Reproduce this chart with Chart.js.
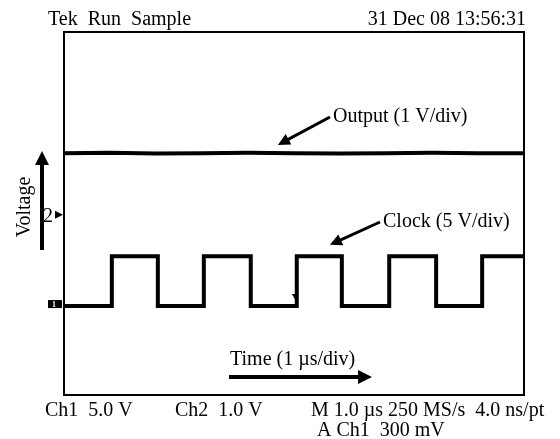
<!DOCTYPE html>
<html>
<head>
<meta charset="utf-8">
<script src="https://cdn.jsdelivr.net/npm/chart.js@4/dist/chart.umd.min.js"></script>
<style>
  html, body { margin: 0; padding: 0; background: #fff; }
  #wrap { width: 560px; height: 439px; }
</style>
</head>
<body>
<div id="wrap"><canvas id="scope" width="560" height="439"></canvas></div>
<script>
// Screen in divisions: 10 horizontal (1 us/div), 8 vertical
const xDivs = [0, 10];
const yDivs = [0, 8];

// Clock trace (Ch1, 5 V/div): edge times in divisions, levels in divisions
const clockEdges = [1.04, 2.04, 3.04, 4.06, 5.06, 6.04, 7.07, 8.09, 9.09];
const clockLow = 1.96;
const clockHigh = 3.06;

// Output trace (Ch2, 1 V/div): flat level, small noise
const outputX = [0, 1, 2, 3, 4, 5, 6, 7, 8, 9, 10];
const outputY = [5.33, 5.34, 5.32, 5.33, 5.34, 5.33, 5.32, 5.33, 5.34, 5.33, 5.33];

// channel markers on the left edge
const ch2Marker = 3.97;

const headerLeft = 'Tek  Run  Sample';
const headerRight = '31 Dec 08 13:56:31';
const footerTexts = ['Ch1  5.0 V', 'Ch2  1.0 V', 'M 1.0 \u00b5s 250 MS/s  4.0 ns/pt', 'A Ch1  300 mV'];

// build square wave points from the edges
const clockPoints = [{ x: xDivs[0], y: clockLow }];
let level = clockLow;
clockEdges.forEach(t => {
    clockPoints.push({ x: t, y: level });
    level = (level === clockLow) ? clockHigh : clockLow;
    clockPoints.push({ x: t, y: level });
});
clockPoints.push({ x: xDivs[1], y: level });

const outputPoints = outputX.map((x, i) => ({ x: x, y: outputY[i] }));

const FONT = '"Liberation Serif", "Times New Roman", serif';

function arrow(ctx, x1, y1, x2, y2, w, head) {
    const a = Math.atan2(y2 - y1, x2 - x1);
    ctx.save();
    ctx.lineWidth = w;
    ctx.beginPath();
    ctx.moveTo(x1, y1);
    ctx.lineTo(x2 - Math.cos(a) * head * 0.8, y2 - Math.sin(a) * head * 0.8);
    ctx.stroke();
    ctx.beginPath();
    ctx.moveTo(x2, y2);
    ctx.lineTo(x2 - head * Math.cos(a) + head * 0.5 * Math.sin(a), y2 - head * Math.sin(a) - head * 0.5 * Math.cos(a));
    ctx.lineTo(x2 - head * Math.cos(a) - head * 0.5 * Math.sin(a), y2 - head * Math.sin(a) + head * 0.5 * Math.cos(a));
    ctx.closePath();
    ctx.fill();
    ctx.restore();
}

const scopeDecor = {
    id: 'scopeDecor',
    afterDraw(chart) {
        const ctx = chart.ctx;
        const area = chart.chartArea;
        const xs = chart.scales.x, ys = chart.scales.y;
        ctx.save();
        ctx.fillStyle = '#000';
        ctx.strokeStyle = '#000';

        // screen border
        ctx.lineWidth = 2;
        ctx.strokeRect(area.left, area.top, area.right - area.left, area.bottom - area.top);

        // header / footer text
        ctx.font = '20px ' + FONT;
        ctx.textBaseline = 'alphabetic';
        ctx.textAlign = 'left';
        ctx.fillText(headerLeft, 48, 25);
        ctx.textAlign = 'right';
        ctx.fillText(headerRight, 526, 25);
        ctx.textAlign = 'left';
        ctx.fillText(footerTexts[0], 45, 416);
        ctx.fillText(footerTexts[1], 175, 416);
        ctx.fillText(footerTexts[2], 311, 416);
        ctx.fillText(footerTexts[3], 317, 436);

        // annotations
        ctx.fillText('Output (1 V/div)', 333, 122);
        arrow(ctx, 330, 117, xs.getPixelForValue(4.65), ys.getPixelForValue(5.51), 3, 12);
        ctx.fillText('Clock (5 V/div)', 383, 227);
        arrow(ctx, 380, 222, xs.getPixelForValue(5.78), ys.getPixelForValue(3.31), 3, 12);
        ctx.fillText('Time (1 \u00b5s/div)', 230, 365);
        arrow(ctx, 229, 377, 372, 377, 4, 14);

        // Voltage axis label + arrow
        ctx.save();
        ctx.translate(30, 207);
        ctx.rotate(-Math.PI / 2);
        ctx.textAlign = 'center';
        ctx.fillText('Voltage', 0, 0);
        ctx.restore();
        arrow(ctx, 42, 250, 42, 151, 4, 14);

        // channel 2 marker
        const y2 = ys.getPixelForValue(ch2Marker);
        ctx.textAlign = 'left';
        ctx.fillText('2', 43, y2 + 7);
        ctx.beginPath();
        ctx.moveTo(55, y2 - 4);
        ctx.lineTo(63, y2);
        ctx.lineTo(55, y2 + 4);
        ctx.closePath();
        ctx.fill();

        // channel 1 ground marker
        const y1 = ys.getPixelForValue(clockLow) - 2;
        ctx.fillRect(48, y1 - 4, 14, 8);
        ctx.fillStyle = '#fff';
        ctx.font = 'bold 8px ' + FONT;
        ctx.fillText('1', 52, y1 + 3);

        // trigger marker
        ctx.fillStyle = '#000';
        const tx = xs.getPixelForValue(5.03), ty = ys.getPixelForValue(clockLow) - 8;
        ctx.beginPath();
        ctx.moveTo(tx - 3.5, ty - 4);
        ctx.lineTo(tx + 3.5, ty - 4);
        ctx.lineTo(tx, ty + 2);
        ctx.closePath();
        ctx.fill();
        ctx.restore();
    }
};

new Chart(document.getElementById('scope'), {
    type: 'scatter',
    data: {
        datasets: [
            { label: 'Output', data: outputPoints, showLine: true, borderColor: '#000', borderWidth: 4, pointRadius: 0, tension: 0 },
            { label: 'Clock', data: clockPoints, showLine: true, borderColor: '#000', borderWidth: 4, pointRadius: 0, tension: 0 }
        ]
    },
    options: {
        responsive: false,
        animation: false,
        layout: { padding: { left: 64, right: 36, top: 32, bottom: 44 } },
        plugins: { legend: { display: false }, tooltip: { enabled: false } },
        scales: {
            x: { type: 'linear', min: xDivs[0], max: xDivs[1], display: false },
            y: { type: 'linear', min: yDivs[0], max: yDivs[1], display: false }
        }
    },
    plugins: [scopeDecor]
});
</script>
</body>
</html>
